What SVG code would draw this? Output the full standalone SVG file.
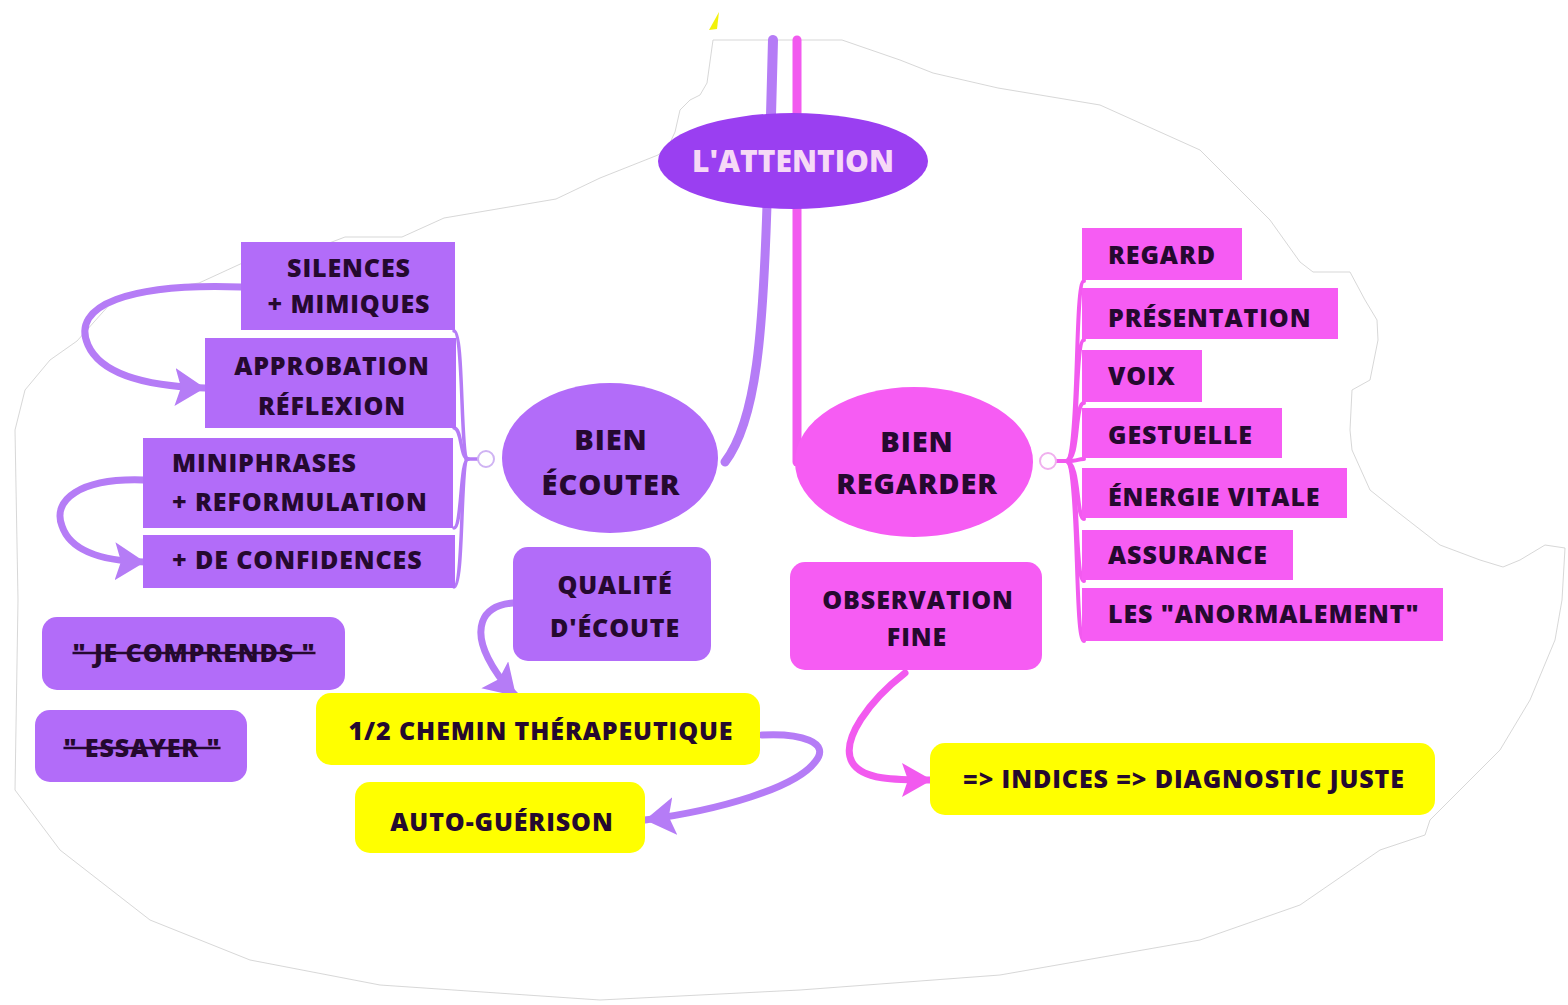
<svg xmlns="http://www.w3.org/2000/svg" width="1568" height="1005" viewBox="0 0 1568 1005">
<defs>
<style>
.t{font-family:"Open Sans","Liberation Sans",sans-serif;font-weight:800;fill:#25092f;font-size:25px;letter-spacing:0.9px}
.c{text-anchor:middle}
.pu{fill:#b26cf9}
.pk{fill:#f65cf3}
.ye{fill:#ffff00}
.lp{fill:none;stroke:#b57cf6;stroke-linecap:round}
.lk{fill:none;stroke:#f25aef;stroke-linecap:round}
.tog{fill:#fff;stroke:#cfb3f3;stroke-width:2}
</style>
<marker id="ap" markerUnits="userSpaceOnUse" markerWidth="34" markerHeight="40" refX="30" refY="19" orient="auto" viewBox="0 0 34 40">
<path d="M0,0 L30,19 L0,38 L6,19 Z" fill="#b57cf6"/>
</marker>
<marker id="ak" markerUnits="userSpaceOnUse" markerWidth="34" markerHeight="40" refX="30" refY="17" orient="auto" viewBox="0 0 34 40">
<path d="M0,0 L30,17 L0,34 L6,17 Z" fill="#f25aef"/>
</marker>
</defs>
<rect width="1568" height="1005" fill="#fff"/>
<g id="backdrop">
<path d="M713,40 L842,40 L900,60 L933,73 L998,88 L1100,105 L1200,150 L1270,220 L1300,262 L1313,272 L1350,272 L1365,300 L1377,320 L1378,340 L1370,380 L1352,390 L1350,430 L1352,450 L1370,490 L1395,510 L1440,545 L1480,560 L1503,567 L1520,560 L1545,545 L1565,548 L1562,600 L1555,640 L1530,700 L1500,750 L1460,790 L1430,820 L1425,835 L1380,850 L1300,905 L1200,940 L1000,975 L800,990 L600,1000 L380,985 L250,960 L150,920 L60,850 L15,790 L18,600 L15,430 L25,390 L50,360 L77,341 L111,303 L130,293 L199,283 L249,260 L303,253 L345,237 L402,237 L444,218 L556,199 L600,178 L658,155 L668,147 L675,132 L680,110 L690,100 L700,95 L707,83 Z" fill="#fff" stroke="#d2d2d2" stroke-width="0.9"/>
<polygon points="709,30 719,12 717,29" fill="#f2f20a"/>
</g>
<g id="connectors">
<path class="lp" d="M773,40 L771,115" stroke-width="10" stroke-linecap="butt"/>
<path class="lk" d="M797,40 L797,115" stroke-width="9" stroke-linecap="butt"/>
<path class="lp" d="M767,205 C763,330 757,420 725,462" stroke-width="9"/>
<path class="lk" d="M797,205 L797,462" stroke-width="9" stroke-linecap="butt"/>
<g class="lp" stroke-width="3.5">
<path d="M478,459 L466,459"/>
<path d="M468,459 C460,459 464,331 454,331"/>
<path d="M468,459 C460,459 462,428 454,428"/>
<path d="M468,459 C460,459 462,528 454,528"/>
<path d="M468,459 C460,459 464,587 454,587"/>
</g>
<g class="lk" stroke-width="4">
<path d="M1056,461 L1068,461"/>
<path d="M1066,461 C1080,461 1074,281 1084,281"/>
<path d="M1066,461 C1080,461 1074,340 1084,340"/>
<path d="M1066,461 C1080,461 1074,403 1084,403"/>
<path d="M1066,461 C1080,461 1076,459 1084,459"/>
<path d="M1066,461 C1080,461 1076,519 1084,519"/>
<path d="M1066,461 C1080,461 1074,581 1084,581"/>
<path d="M1066,461 C1080,461 1074,641 1084,641"/>
</g>
<path class="lp" d="M241,287 C130,283 70,305 88,345 C100,372 140,386 205,388" stroke-width="7" marker-end="url(#ap)"/>
<path class="lp" d="M143,480 C80,478 52,500 62,526 C70,550 100,561 145,562" stroke-width="7" marker-end="url(#ap)"/>
<path class="lp" d="M513,603 C478,606 475,632 488,658 C496,674 506,686 516,696" stroke-width="7" marker-end="url(#ap)"/>
<path class="lp" d="M762,735 C800,733 832,742 815,762 C795,788 720,810 645,820" stroke-width="7" marker-end="url(#ap)"/>
<path class="lk" d="M905,673 C870,700 840,740 852,762 C862,780 895,780 932,780" stroke-width="7" marker-end="url(#ak)"/>
</g>
<g id="root">
<ellipse cx="793" cy="161" rx="135" ry="48" fill="#9a3ff1"/>
<text class="t c" x="793" y="172" style="font-size:30px;fill:#f6d9f6;letter-spacing:0">L'ATTENTION</text>
</g>
<g id="bien-ecouter">
<ellipse cx="610" cy="458" rx="108" ry="75" class="pu"/>
<circle cx="486" cy="459" r="8" class="tog"/>
<text class="t c" x="611" y="450" style="font-size:29px">BIEN</text>
<text class="t c" x="611" y="495" style="font-size:29px">ÉCOUTER</text>
</g>
<g id="bien-regarder">
<ellipse cx="914" cy="462" rx="119" ry="75" class="pk"/>
<circle cx="1048" cy="461" r="8" fill="#fff" stroke="#f0b0ee" stroke-width="2"/>
<text class="t c" x="917" y="452" style="font-size:29px">BIEN</text>
<text class="t c" x="917" y="494" style="font-size:29px">REGARDER</text>
</g>
<g id="silences">
<rect x="241" y="242" width="214" height="88" class="pu"/>
<text class="t c" x="349" y="277">SILENCES</text>
<text class="t c" x="349" y="313">+ MIMIQUES</text>
</g>
<g id="approbation">
<rect x="205" y="338" width="251" height="90" class="pu"/>
<text class="t c" x="332" y="375">APPROBATION</text>
<text class="t c" x="332" y="415">RÉFLEXION</text>
</g>
<g id="miniphrases">
<rect x="143" y="438" width="310" height="90" class="pu"/>
<text class="t" x="172" y="472">MINIPHRASES</text>
<text class="t" x="172" y="511">+ REFORMULATION</text>
</g>
<g id="confidences">
<rect x="143" y="535" width="312" height="53" class="pu"/>
<text class="t" x="172" y="569">+ DE CONFIDENCES</text>
</g>
<g id="je-comprends">
<rect x="42" y="617" width="303" height="73" rx="15" class="pu"/>
<text class="t c" x="194" y="662" text-decoration="line-through">" JE COMPRENDS "</text>
</g>
<g id="essayer">
<rect x="35" y="710" width="212" height="72" rx="15" class="pu"/>
<text class="t c" x="142" y="757" text-decoration="line-through">" ESSAYER "</text>
</g>
<g id="qualite">
<rect x="513" y="547" width="198" height="114" rx="15" class="pu"/>
<text class="t c" x="615" y="594">QUALITÉ</text>
<text class="t c" x="615" y="637">D'ÉCOUTE</text>
</g>
<g id="chemin">
<rect x="316" y="693" width="444" height="72" rx="15" class="ye"/>
<text class="t c" x="541" y="740">1/2 CHEMIN THÉRAPEUTIQUE</text>
</g>
<g id="auto-guerison">
<rect x="355" y="782" width="290" height="71" rx="15" class="ye"/>
<text class="t c" x="502" y="831">AUTO-GUÉRISON</text>
</g>
<g id="observation">
<rect x="790" y="562" width="252" height="108" rx="15" class="pk"/>
<text class="t c" x="918" y="609">OBSERVATION</text>
<text class="t c" x="917" y="646">FINE</text>
</g>
<g id="indices">
<rect x="930" y="743" width="505" height="72" rx="15" class="ye"/>
<text class="t c" x="1184" y="788">=&gt; INDICES =&gt; DIAGNOSTIC JUSTE</text>
</g>
<g id="regard"><rect x="1082" y="228" width="160" height="52" class="pk"/><text class="t" x="1108" y="264">REGARD</text></g>
<g id="presentation"><rect x="1082" y="288" width="256" height="51" class="pk"/><text class="t" x="1108" y="327">PRÉSENTATION</text></g>
<g id="voix"><rect x="1082" y="350" width="120" height="52" class="pk"/><text class="t" x="1108" y="385">VOIX</text></g>
<g id="gestuelle"><rect x="1082" y="408" width="200" height="50" class="pk"/><text class="t" x="1108" y="444">GESTUELLE</text></g>
<g id="energie"><rect x="1082" y="468" width="265" height="50" class="pk"/><text class="t" x="1108" y="506">ÉNERGIE VITALE</text></g>
<g id="assurance"><rect x="1082" y="530" width="211" height="50" class="pk"/><text class="t" x="1108" y="564">ASSURANCE</text></g>
<g id="anormalement"><rect x="1082" y="588" width="361" height="53" class="pk"/><text class="t" x="1108" y="623">LES "ANORMALEMENT"</text></g>
</svg>
